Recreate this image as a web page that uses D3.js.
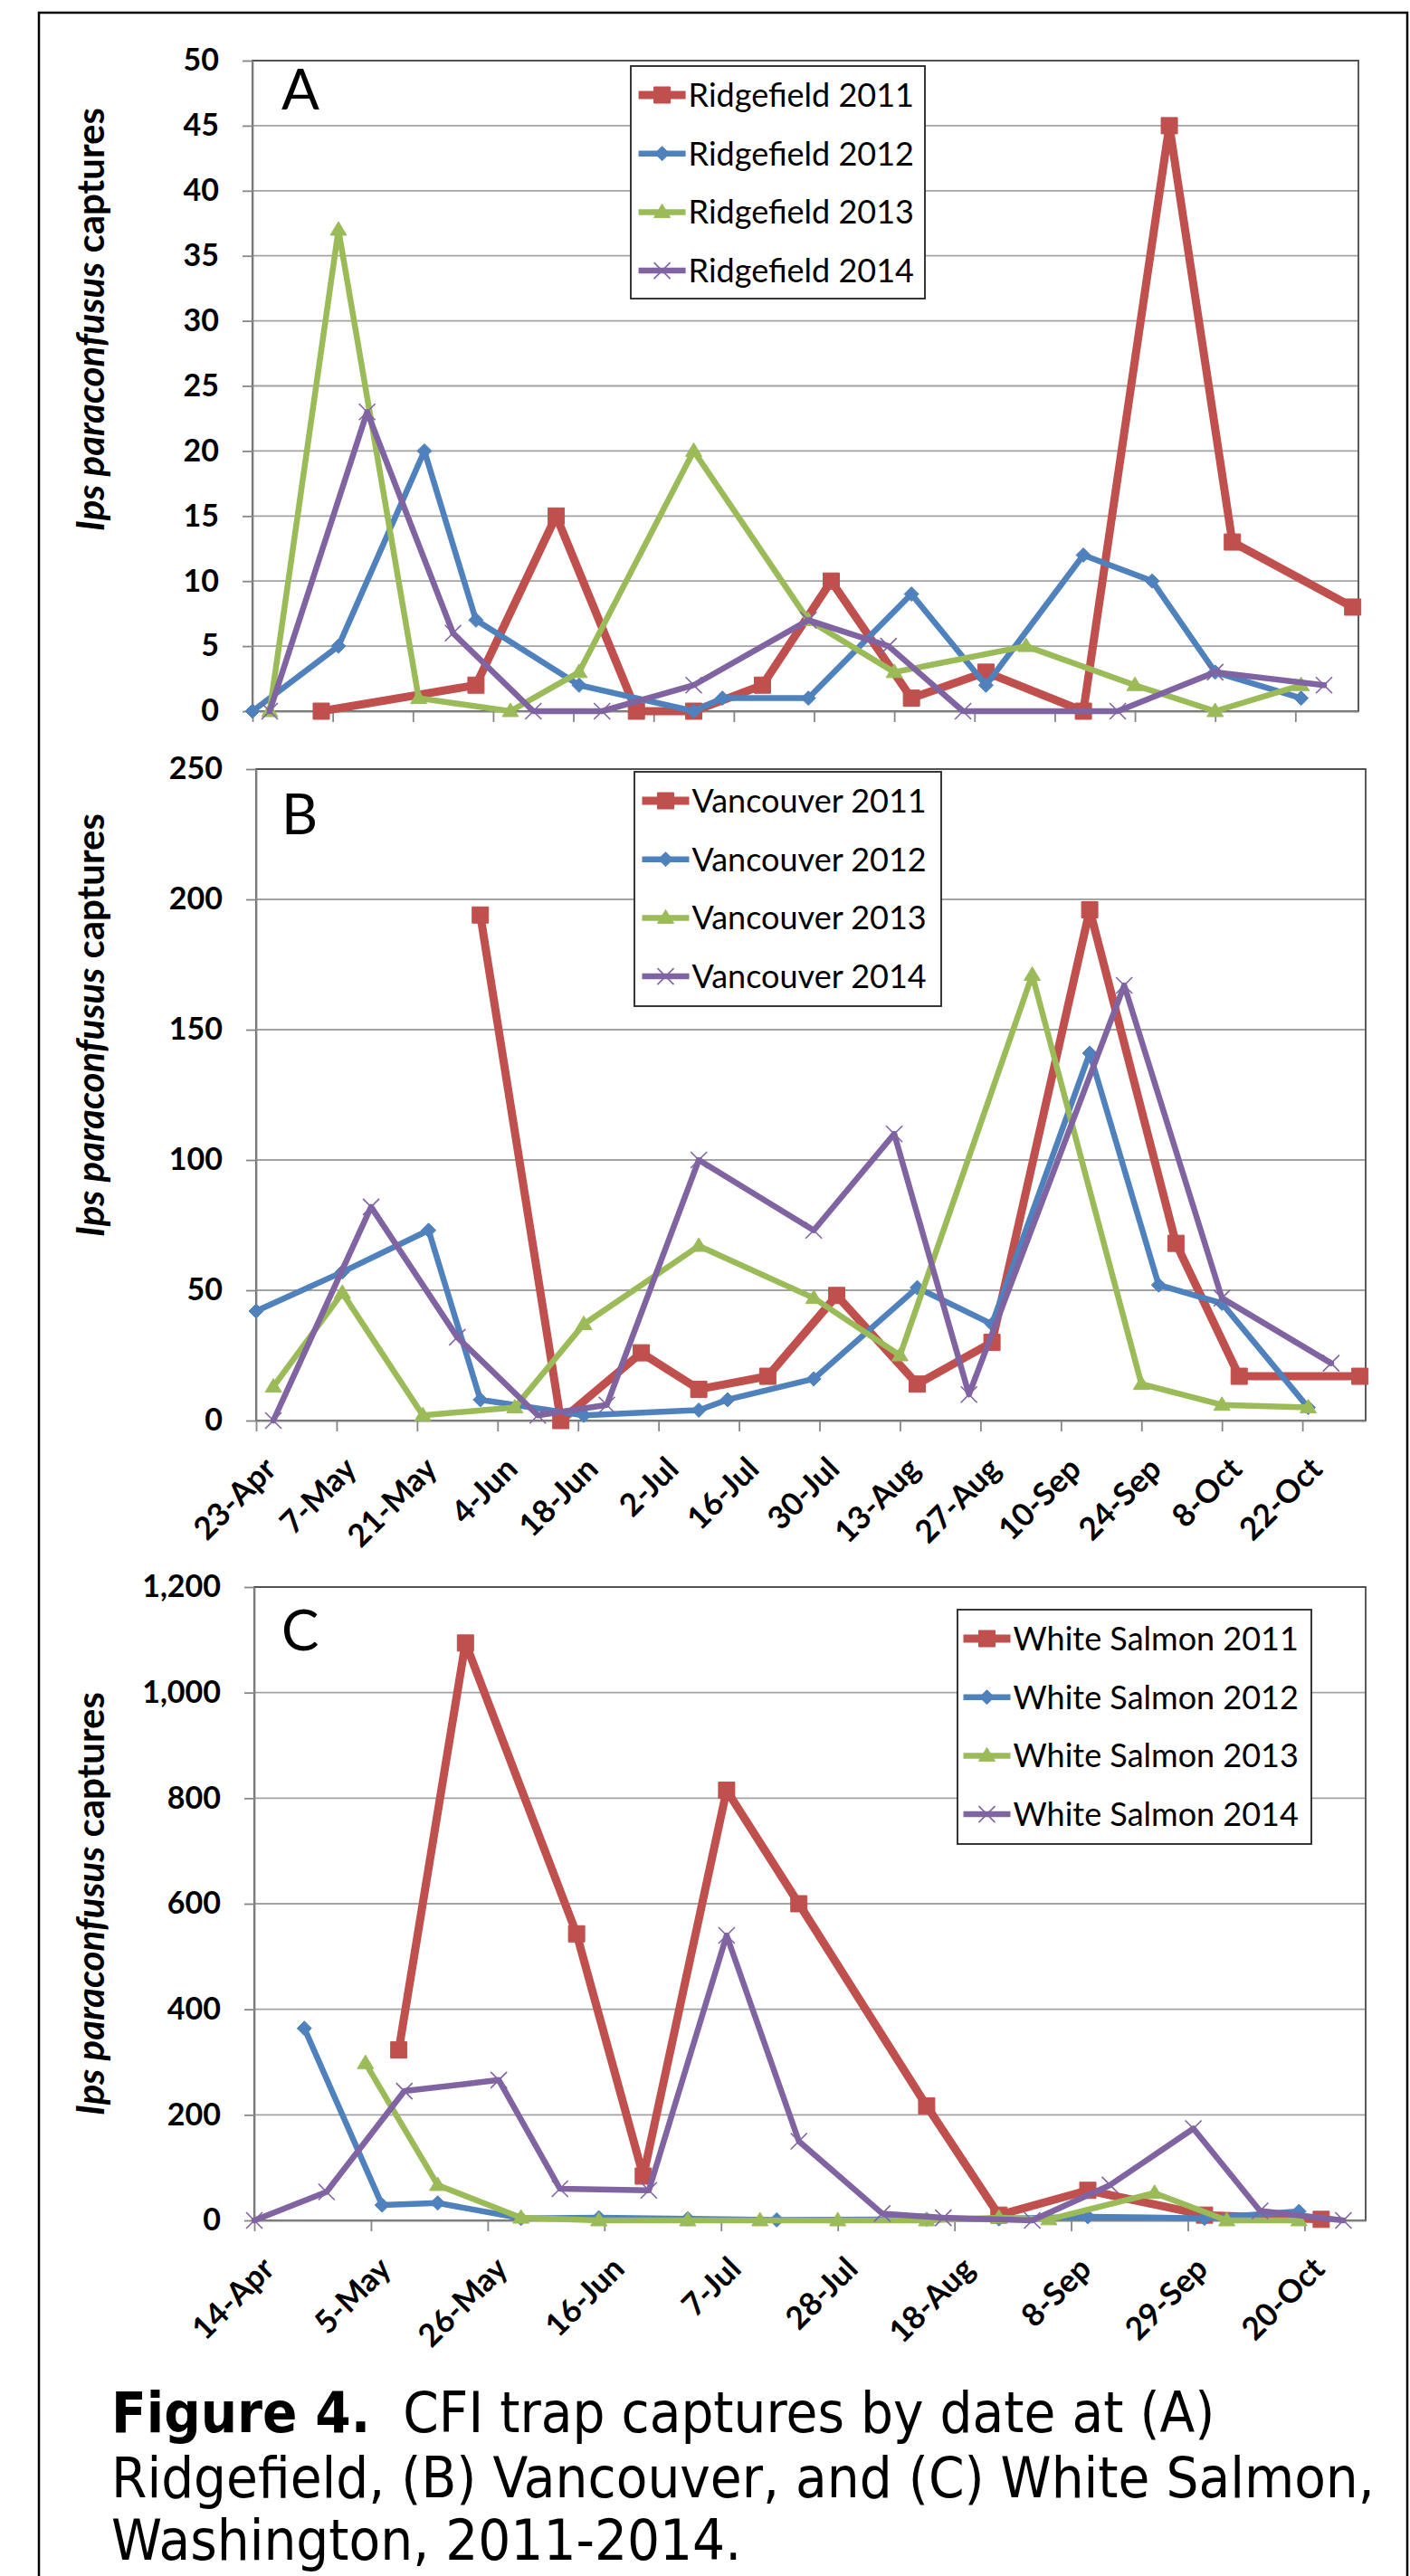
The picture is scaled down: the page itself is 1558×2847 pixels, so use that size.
<!DOCTYPE html>
<html>
<head>
<meta charset="utf-8">
<script src="https://cdn.jsdelivr.net/npm/d3@7"></script>
<style>
  html, body { margin: 0; padding: 0; background: #fff; }
  svg { display: block; }
</style>
</head>
<body>
<svg id="figure"></svg>
<script>
// ---- data (dates are day-month, all plotted on one season) ----
const years = ["2011", "2012", "2013", "2014"];

const ridgefield2011 = [["5-May",0],["1-Jun",2],["15-Jun",15],["29-Jun",0],["9-Jul",0],["21-Jul",2],["2-Aug",10],["16-Aug",1],["29-Aug",3],["15-Sep",0],["30-Sep",45],["11-Oct",13],["1-Nov",8]];
const ridgefield2012 = [["23-Apr",0],["8-May",5],["23-May",20],["1-Jun",7],["19-Jun",2],["9-Jul",0],["14-Jul",1],["29-Jul",1],["16-Aug",9],["29-Aug",2],["15-Sep",12],["27-Sep",10],["8-Oct",3],["23-Oct",1]];
const ridgefield2013 = [["26-Apr",0],["8-May",37],["22-May",1],["7-Jun",0],["19-Jun",3],["9-Jul",20],["29-Jul",7],["13-Aug",3],["5-Sep",5],["24-Sep",2],["8-Oct",0],["23-Oct",2]];
const ridgefield2014 = [["26-Apr",0],["13-May",23],["28-May",6],["11-Jun",0],["23-Jun",0],["9-Jul",2],["29-Jul",7],["12-Aug",5],["25-Aug",0],["21-Sep",0],["8-Oct",3],["27-Oct",2]];

const vancouver2011 = [["1-Jun",194],["15-Jun",0],["29-Jun",26],["9-Jul",12],["21-Jul",17],["2-Aug",48],["16-Aug",14],["29-Aug",30],["15-Sep",196],["30-Sep",68],["11-Oct",17],["1-Nov",17]];
const vancouver2012 = [["23-Apr",42],["8-May",57],["23-May",73],["1-Jun",8],["19-Jun",2],["9-Jul",4],["14-Jul",8],["29-Jul",16],["16-Aug",51],["29-Aug",37],["15-Sep",141],["27-Sep",52],["8-Oct",45],["23-Oct",5]];
const vancouver2013 = [["26-Apr",13],["8-May",49],["22-May",2],["7-Jun",5],["19-Jun",37],["9-Jul",67],["29-Jul",47],["13-Aug",25],["5-Sep",171],["24-Sep",14],["8-Oct",6],["23-Oct",5]];
const vancouver2014 = [["26-Apr",0],["13-May",82],["28-May",32],["11-Jun",2],["23-Jun",6],["9-Jul",100],["29-Jul",73],["12-Aug",110],["25-Aug",10],["21-Sep",167],["8-Oct",47],["27-Oct",22]];

const whiteSalmon2011 = [["10-May",323],["22-May",1094],["11-Jun",543],["23-Jun",84],["8-Jul",815],["21-Jul",600],["13-Aug",217],["26-Aug",10],["11-Sep",57],["2-Oct",10],["23-Oct",2]];
const whiteSalmon2012 = [["23-Apr",364],["7-May",29],["17-May",33],["1-Jun",4],["15-Jun",5],["1-Jul",3],["17-Jul",1],["13-Aug",2],["26-Aug",3],["11-Sep",7],["2-Oct",4],["19-Oct",17]];
const whiteSalmon2013 = [["4-May",298],["17-May",67],["1-Jun",5],["15-Jun",0],["1-Jul",0],["14-Jul",0],["28-Jul",0],["13-Aug",0],["26-Aug",5],["4-Sep",2],["23-Sep",52],["6-Oct",0],["19-Oct",0]];
const whiteSalmon2014 = [["14-Apr",0],["27-Apr",54],["11-May",245],["28-May",266],["8-Jun",60],["24-Jun",57],["8-Jul",540],["21-Jul",150],["5-Aug",13],["16-Aug",5],["1-Sep",0],["15-Sep",67],["30-Sep",174],["12-Oct",18],["27-Oct",0]];

const ticksA = [0, 5, 10, 15, 20, 25, 30, 35, 40, 45, 50];
const ticksB = [0, 50, 100, 150, 200, 250];
const ticksC = [0, 200, 400, 600, 800, 1000, 1200];

const dateTicksAB = ["23-Apr","7-May","21-May","4-Jun","18-Jun","2-Jul","16-Jul","30-Jul","13-Aug","27-Aug","10-Sep","24-Sep","8-Oct","22-Oct"];
const dateTicksC = ["14-Apr","5-May","26-May","16-Jun","7-Jul","28-Jul","18-Aug","8-Sep","29-Sep","20-Oct"];

const captionLines = ["CFI trap captures by date at (A)", "Ridgefield, (B) Vancouver, and (C) White Salmon,", "Washington, 2011-2014."];

// ---- styling ----
const seriesColors = ["#C0504D", "#4F81BD", "#9BBB59", "#8064A2"];
const markerPaths = [
  "M-9,-9H9V9H-9Z",            // square
  "M0,-8L8,0L0,8L-8,0Z",       // diamond
  "M0,-9L9,6H-9Z",             // triangle
  "M-9,-9L9,9M-9,9L9,-9"       // x
];
const lineWidths = [9, 6.5, 6.5, 6.5];

const parseDay = d3.timeParse("%d-%b-%Y");
const day = s => parseDay(s + "-2013");

const svg = d3.select("#figure").attr("width", 1558).attr("height", 2847);

// outer frame of the figure
svg.append("rect")
  .attr("x", 43).attr("y", 14).attr("width", 1512).attr("height", 2900)
  .attr("fill", "none").attr("stroke", "#000").attr("stroke-width", 2.5);

const panels = [
  { letter: "A", site: "Ridgefield", series: [ridgefield2011, ridgefield2012, ridgefield2013, ridgefield2014],
    yTicks: ticksA, dateTicks: dateTicksAB, xLabels: false, xStart: "23-Apr", xEnd: "2-Nov",
    left: 279, right: 1501, top: 67, bottom: 786, titleY: 353, letterY: 121,
    legend: { x: 697, y: 73, w: 325, h: 257, pad: 8.6 } },
  { letter: "B", site: "Vancouver", series: [vancouver2011, vancouver2012, vancouver2013, vancouver2014],
    yTicks: ticksB, dateTicks: dateTicksAB, xLabels: true, xStart: "23-Apr", xEnd: "2-Nov",
    left: 283, right: 1509, top: 850, bottom: 1570, titleY: 1133, letterY: 922,
    legend: { x: 701, y: 853, w: 339, h: 259, pad: 8.5 } },
  { letter: "C", site: "White Salmon", series: [whiteSalmon2011, whiteSalmon2012, whiteSalmon2013, whiteSalmon2014],
    yTicks: ticksC, dateTicks: dateTicksC, xLabels: true, xStart: "14-Apr", xEnd: "31-Oct",
    left: 281, right: 1509, top: 1754, bottom: 2454, titleY: 2104, letterY: 1824,
    legend: { x: 1058, y: 1779, w: 391, h: 259, pad: 6.5 } }
];

panels.forEach(drawPanel);

function drawPanel(cfg) {
  const x = d3.scaleTime().domain([day(cfg.xStart), day(cfg.xEnd)]).range([cfg.left, cfg.right]);
  const y = d3.scaleLinear().domain([0, d3.max(cfg.yTicks)]).range([cfg.bottom, cfg.top]);
  const g = svg.append("g");

  // horizontal gridlines
  g.selectAll(".grid")
    .data(cfg.yTicks.filter(v => v > 0))
    .join("line")
    .attr("class", "grid")
    .attr("x1", cfg.left).attr("x2", cfg.right)
    .attr("y1", d => y(d)).attr("y2", d => y(d))
    .attr("stroke", "#a3a3a3").attr("stroke-width", 1.8);

  // plot area border (dark on top / right)
  g.append("rect")
    .attr("x", cfg.left).attr("y", cfg.top)
    .attr("width", cfg.right - cfg.left).attr("height", cfg.bottom - cfg.top)
    .attr("fill", "none").attr("stroke", "#4a4a4a").attr("stroke-width", 1.8);

  // y axis
  const ya = g.append("g")
    .attr("transform", `translate(${cfg.left},0)`)
    .call(d3.axisLeft(y).tickValues(cfg.yTicks).tickSize(11).tickSizeOuter(0).tickPadding(26).tickFormat(d3.format(",")));
  ya.attr("font-family", "Lato").attr("font-size", 34).attr("font-weight", "bold");
  ya.select(".domain").attr("stroke", "#868686").attr("stroke-width", 1.8);
  ya.selectAll(".tick line").attr("stroke", "#868686").attr("stroke-width", 1.8);
  ya.selectAll(".tick text").attr("fill", "#000");

  // x axis
  const xa = g.append("g")
    .attr("transform", `translate(0,${cfg.bottom})`)
    .call(d3.axisBottom(x).tickValues(cfg.dateTicks.map(day)).tickSize(12).tickSizeOuter(0)
      .tickFormat(cfg.xLabels ? d3.timeFormat("%-d-%b") : () => ""));
  xa.attr("font-family", "Lato").attr("font-size", 35).attr("font-weight", "bold");
  xa.select(".domain").attr("stroke", "#868686").attr("stroke-width", 1.8);
  xa.selectAll(".tick line").attr("stroke", "#868686").attr("stroke-width", 1.8);
  xa.selectAll(".tick text")
    .attr("fill", "#000")
    .attr("x", 0).attr("y", 0).attr("dy", "0.35em")
    .attr("text-anchor", "end")
    .attr("transform", "translate(15,47) rotate(-45)");

  // y title
  const title = g.append("text")
    .attr("transform", `translate(115,${cfg.titleY}) rotate(-90)`)
    .attr("text-anchor", "middle")
    .attr("font-family", "Lato").attr("font-weight", "bold").attr("font-size", 42);
  title.append("tspan").attr("font-style", "italic").text("Ips paraconfusus");
  title.append("tspan").text(" captures");

  // panel letter
  g.append("text")
    .attr("x", 311).attr("y", cfg.letterY)
    .attr("font-family", "Lato").attr("font-size", 62)
    .text(cfg.letter);

  // series: line then markers, in series order
  cfg.series.forEach((s, i) => {
    const pts = s.map(([d, v]) => ({ date: day(d), value: v }));
    g.append("path")
      .datum(pts)
      .attr("d", d3.line().x(p => x(p.date)).y(p => y(p.value)))
      .attr("fill", "none")
      .attr("stroke", seriesColors[i])
      .attr("stroke-width", lineWidths[i])
      .attr("stroke-linejoin", "round")
      .attr("stroke-linecap", "round");
    g.selectAll(null)
      .data(pts)
      .join("path")
      .attr("transform", p => `translate(${x(p.date)},${y(p.value)})`)
      .attr("d", markerPaths[i])
      .attr("fill", i === 3 ? "none" : seriesColors[i])
      .attr("stroke", seriesColors[i])
      .attr("stroke-width", i === 3 ? 1.6 : 1);
  });

  // legend
  const L = cfg.legend;
  const lg = g.append("g").attr("transform", `translate(${L.x},${L.y})`);
  lg.append("rect")
    .attr("width", L.w).attr("height", L.h)
    .attr("fill", "#fff").attr("stroke", "#222").attr("stroke-width", 1.8);
  years.forEach((yr, i) => {
    const row = lg.append("g").attr("transform", `translate(${L.pad},${32 + i * 64.7})`);
    row.append("line")
      .attr("x1", 0).attr("x2", 52)
      .attr("stroke", seriesColors[i]).attr("stroke-width", lineWidths[i]);
    row.append("path")
      .attr("transform", "translate(26,0)")
      .attr("d", markerPaths[i])
      .attr("fill", i === 3 ? "none" : seriesColors[i])
      .attr("stroke", seriesColors[i])
      .attr("stroke-width", i === 3 ? 1.6 : 1);
    row.append("text")
      .attr("x", 55).attr("dy", "0.36em")
      .attr("font-family", "Lato").attr("font-size", 36)
      .text(`${cfg.site} ${yr}`);
  });
}

// caption
const cap = svg.append("g")
  .attr("transform", "translate(123,0) scale(0.9,1)")
  .attr("font-family", "DejaVu Sans").attr("font-size", 63).attr("fill", "#000");
const first = cap.append("text").attr("y", 2688).style("white-space", "pre");
first.append("tspan").attr("font-weight", "bold").text("Figure 4.");
first.append("tspan").text("  " + captionLines[0]);
cap.append("text").attr("y", 2760).text(captionLines[1]);
cap.append("text").attr("y", 2829).text(captionLines[2]);
</script>
</body>
</html>
